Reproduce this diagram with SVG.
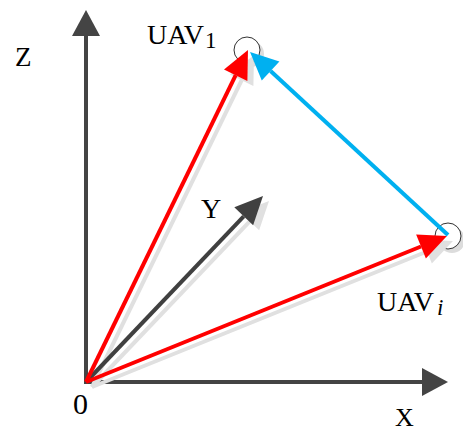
<svg xmlns="http://www.w3.org/2000/svg" width="463" height="432" viewBox="0 0 463 432">
<style>
text{font-family:"Liberation Serif","Times New Roman",serif;fill:#000}
.ax{stroke:#444;stroke-width:4;fill:none}
.sh{stroke:#e0e0e0;stroke-width:4;fill:none}
.red{stroke:#ff0000;stroke-width:4;fill:none}
.cyan{stroke:#00b0f0;stroke-width:4;fill:none}
.dk{stroke:#404040;stroke-width:4;fill:none}
.node{fill:#fff;stroke:#333;stroke-width:1}
.nsh{fill:#dcdcdc;stroke:none}
</style>
<defs>
<marker id="hAx" markerUnits="userSpaceOnUse" markerWidth="30" markerHeight="30" viewBox="0 -15 30 30" refX="0" refY="0" orient="auto" overflow="visible"><path d="M0,-14 L26,0 L0,14 Z" fill="#444"/></marker>
<marker id="hRed" markerUnits="userSpaceOnUse" markerWidth="30" markerHeight="30" viewBox="0 -15 30 30" refX="0" refY="0" orient="auto" overflow="visible"><path d="M0,-13 L28,0 L0,13 Z" fill="#ff0000"/></marker>
<marker id="hCy" markerUnits="userSpaceOnUse" markerWidth="30" markerHeight="30" viewBox="0 -15 30 30" refX="0" refY="0" orient="auto" overflow="visible"><path d="M0,-13 L28,0 L0,13 Z" fill="#00b0f0"/></marker>
<marker id="hDk" markerUnits="userSpaceOnUse" markerWidth="30" markerHeight="30" viewBox="0 -15 30 30" refX="0" refY="0" orient="auto" overflow="visible"><path d="M0,-13 L28,0 L0,13 Z" fill="#404040"/></marker>
<marker id="hSh" markerUnits="userSpaceOnUse" markerWidth="30" markerHeight="30" viewBox="0 -15 30 30" refX="0" refY="0" orient="auto" overflow="visible"><path d="M0,-13 L28,0 L0,13 Z" fill="#e0e0e0"/></marker>
</defs>
<g id="axes">
<line class="ax" x1="86" y1="384" x2="86" y2="36" marker-end="url(#hAx)"/>
<line class="ax" x1="84" y1="382" x2="422" y2="382" marker-end="url(#hAx)"/>
<text x="15" y="66" font-size="27">Z</text>
<text x="395" y="426" font-size="26">X</text>
<text x="73" y="414" font-size="30">0</text>
</g>
<g id="node-uav1">
<circle class="nsh" cx="251" cy="54" r="13"/>
<circle class="node" cx="247" cy="50" r="13"/>
<text x="147" y="44" font-size="28">UAV<tspan font-size="23" dy="4" dx="1">1</tspan></text>
</g>
<g id="node-uavi">
<circle class="nsh" cx="452" cy="240" r="13"/>
<circle class="node" cx="448" cy="236" r="13"/>
<text x="377" y="311" font-size="28">UAV<tspan font-size="23" dy="4" dx="3" font-style="italic">i</tspan></text>
</g>
<g id="connectors">
<g id="shadows" transform="translate(6,5)">
<line class="sh" x1="86" y1="382" x2="235.7" y2="75.2" marker-end="url(#hSh)"/>
<line class="sh" x1="86" y1="382" x2="421" y2="246.5" marker-end="url(#hSh)"/>
<line class="sh" x1="86" y1="382" x2="243.7" y2="216.3" marker-end="url(#hSh)"/>
</g>
<line class="dk" x1="86" y1="382" x2="243.7" y2="216.3" marker-end="url(#hDk)"/>
<line class="red" x1="86" y1="382" x2="235.7" y2="75.2" marker-end="url(#hRed)"/>
<line class="red" x1="86" y1="382" x2="421" y2="246.5" marker-end="url(#hRed)"/>
<line class="cyan" x1="448" y1="235" x2="270.6" y2="71" marker-end="url(#hCy)"/>
</g>
<text x="201" y="218" font-size="28">Y</text>
</svg>
